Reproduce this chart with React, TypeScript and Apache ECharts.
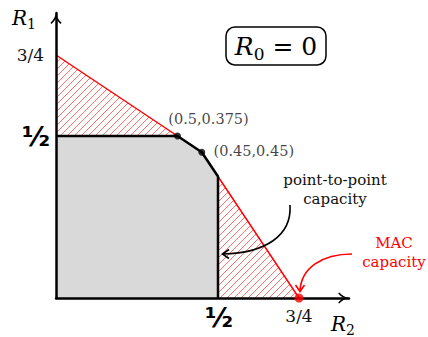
import React, { useEffect, useRef } from 'react';
import * as echarts from 'echarts';

// ---- data ----
const macBoundary: [number, number][] = [[0, 0.75], [0.375, 0.5], [0.45, 0.45], [0.5, 0.375], [0.75, 0]];
const p2pBoundary: [number, number][] = [[0, 0.5], [0.375, 0.5], [0.45, 0.45], [0.5, 0.375], [0.5, 0]];
const cornerPoints: [number, number][] = [[0.375, 0.5], [0.45, 0.45]];
const cornerLabels: string[] = ['(0.5,0.375)', '(0.45,0.45)'];
const macPoint: [number, number][] = [[0.75, 0]];
const tickValues: number[] = [0.5, 0.75];
const tickLabels: string[] = ['½', '3/4'];

const SERIF = '"DejaVu Serif", serif';
const SANS = '"DejaVu Sans", sans-serif';

const arrowPath =
  'path://M5,0 C5.5,3 7.2,6.2 10,8.8 L9.3,9.8 C7.4,8.3 5.9,6.6 5,4.6 C4.1,6.6 2.6,8.3 0.7,9.8 L0,8.8 C2.8,6.2 4.5,3 5,0 Z';

function makeHatch(): HTMLCanvasElement {
  const s = 7;
  const c = document.createElement('canvas');
  c.width = s;
  c.height = s;
  const ctx = c.getContext('2d')!;
  ctx.fillStyle = '#ffffff';
  ctx.fillRect(0, 0, s, s);
  ctx.strokeStyle = 'rgba(255,0,0,0.75)';
  ctx.lineWidth = 0.75;
  ctx.beginPath();
  ctx.moveTo(-1, s + 1);
  ctx.lineTo(s + 1, -1);
  ctx.moveTo(-1, 1);
  ctx.lineTo(1, -1);
  ctx.moveTo(s - 1, s + 1);
  ctx.lineTo(s + 1, s - 1);
  ctx.stroke();
  return c;
}

function tickFormatter(v: number): string {
  for (let i = 0; i < tickValues.length; i++) {
    if (Math.abs(v - tickValues[i]) < 1e-9) {
      return i === 0 ? `{h|${tickLabels[i]}}` : `{f|${tickLabels[i]}}`;
    }
  }
  return '';
}

export default function App() {
  const ref = useRef<HTMLDivElement>(null);
  useEffect(() => {
    if (!ref.current) return;
    const chart = echarts.init(ref.current, undefined, { renderer: 'svg' });
    const xMax = 293 / 324;
    const yMax = 285 / 324;
    const axisLine = {
      show: true,
      onZero: false,
      lineStyle: { color: '#000', width: 2.5 },
      symbol: ['none', arrowPath],
      symbolSize: [11, 11],
      symbolOffset: [0, -5.5],
    };
    const top = 100;
    chart.setOption({
      animation: false,
      backgroundColor: '#fff',
      grid: { left: 56, right: 79, top: 13, bottom: 39, containLabel: false },
      xAxis: {
        type: 'value',
        min: 0,
        max: xMax,
        interval: 0.25,
        z: 5,
        axisLine,
        axisTick: { show: false },
        splitLine: { show: false },
        axisLabel: {
          margin: 6,
          showMaxLabel: false,
          formatter: tickFormatter,
          rich: {
            h: { fontFamily: SANS, fontWeight: 'bold', fontSize: 27, color: '#000', padding: [0, 0, 0, 2] },
            f: { fontFamily: SERIF, fontSize: 17, color: '#111', padding: [3, 0, 0, 0] },
          },
        },
      },
      yAxis: {
        type: 'value',
        min: 0,
        max: yMax,
        interval: 0.25,
        z: 5,
        axisLine,
        axisTick: { show: false },
        splitLine: { show: false },
        axisLabel: {
          margin: 6,
          showMaxLabel: false,
          formatter: tickFormatter,
          rich: {
            h: { fontFamily: SANS, fontWeight: 'bold', fontSize: 27, color: '#000' },
            f: { fontFamily: SERIF, fontSize: 17, color: '#111', padding: [0, 6, 0, 0] },
          },
        },
      },
      series: [
        {
          type: 'line',
          data: macBoundary,
          symbol: 'none',
          z: 2,
          lineStyle: { color: '#ff0000', width: 1.5 },
          areaStyle: { color: { image: makeHatch(), repeat: 'repeat' }, opacity: 1 },
        },
        {
          type: 'line',
          data: p2pBoundary,
          symbol: 'none',
          z: 3,
          lineStyle: { color: '#000', width: 2.5 },
          areaStyle: { color: '#d9d9d9', opacity: 1 },
        },
        {
          type: 'scatter',
          z: 10,
          symbolSize: 7,
          itemStyle: { color: '#000' },
          data: cornerPoints.map((p, i) => ({
            value: p,
            label: { position: 'inside', offset: i === 0 ? [31, -17] : [52, -1] },
          })),
          label: {
            show: true,
            formatter: (p: any) => cornerLabels[p.dataIndex],
            fontFamily: SERIF,
            fontSize: 14.5,
            color: '#111',
          },
        },
        {
          type: 'scatter',
          z: 11,
          symbolSize: 9,
          itemStyle: { color: '#ff0000' },
          data: macPoint,
        },
      ],
      graphic: [
        {
          type: 'rect',
          z: top,
          shape: { x: 226, y: 27, width: 100, height: 38, r: 9 },
          style: { fill: 'none', stroke: '#000', lineWidth: 1.5 },
        },
        {
          type: 'text',
          z: top,
          x: 276,
          y: 46,
          style: {
            text: '{r|R}{s|0}{e| = 0}',
            align: 'center',
            verticalAlign: 'middle',
            rich: {
              r: { fontFamily: SERIF, fontStyle: 'italic', fontSize: 25, lineHeight: 28, fill: '#000' },
              s: { fontFamily: SERIF, fontSize: 17, height: 12, lineHeight: 12, verticalAlign: 'bottom', fill: '#000' },
              e: { fontFamily: SERIF, fontSize: 25, lineHeight: 28, fill: '#000' },
            },
          },
        },
        {
          type: 'text',
          z: top,
          x: 12,
          y: 18,
          style: {
            text: '{r|R}{s|1}',
            align: 'left',
            verticalAlign: 'middle',
            rich: {
              r: { fontFamily: SERIF, fontStyle: 'italic', fontSize: 20, lineHeight: 22, fill: '#000' },
              s: { fontFamily: SERIF, fontSize: 14, height: 10, lineHeight: 10, verticalAlign: 'bottom', fill: '#000' },
            },
          },
        },
        {
          type: 'text',
          z: top,
          x: 331,
          y: 324,
          style: {
            text: '{r|R}{s|2}',
            align: 'left',
            verticalAlign: 'middle',
            rich: {
              r: { fontFamily: SERIF, fontStyle: 'italic', fontSize: 20, lineHeight: 22, fill: '#000' },
              s: { fontFamily: SERIF, fontSize: 14, height: 10, lineHeight: 10, verticalAlign: 'bottom', fill: '#000' },
            },
          },
        },
        {
          type: 'text',
          z: top,
          x: 335,
          y: 189,
          style: {
            text: 'point-to-point\ncapacity',
            align: 'center',
            verticalAlign: 'middle',
            fontFamily: SERIF,
            fontSize: 15,
            lineHeight: 19,
            fill: '#111',
          },
        },
        {
          type: 'text',
          z: top,
          x: 394,
          y: 252,
          style: {
            text: 'MAC\ncapacity',
            align: 'center',
            verticalAlign: 'middle',
            fontFamily: SERIF,
            fontSize: 15,
            lineHeight: 19,
            fill: '#ff0000',
          },
        },
        {
          type: 'bezierCurve',
          z: top,
          shape: { x1: 290, y1: 205, cpx1: 292, cpy1: 236, cpx2: 265, cpy2: 253, x2: 223, y2: 254 },
          style: { stroke: '#000', lineWidth: 1.6, fill: 'none' },
        },
        {
          type: 'polyline',
          z: top,
          shape: { points: [[229, 249.5], [222.5, 254], [229, 258.5]] },
          style: { stroke: '#000', lineWidth: 1.6, fill: 'none' },
        },
        {
          type: 'bezierCurve',
          z: top,
          shape: { x1: 352, y1: 254, cpx1: 322, cpy1: 254, cpx2: 301, cpy2: 268, x2: 300, y2: 291 },
          style: { stroke: '#ff0000', lineWidth: 1.6, fill: 'none' },
        },
        {
          type: 'polyline',
          z: top,
          shape: { points: [[295.5, 285], [300, 291.5], [304.5, 285]] },
          style: { stroke: '#ff0000', lineWidth: 1.6, fill: 'none' },
        },
      ],
    });
    return () => chart.dispose();
  }, []);
  return (
    <div
      ref={ref}
      style={{ position: 'absolute', left: 0, top: 0, width: 428, height: 337, background: '#fff' }}
    />
  );
}
